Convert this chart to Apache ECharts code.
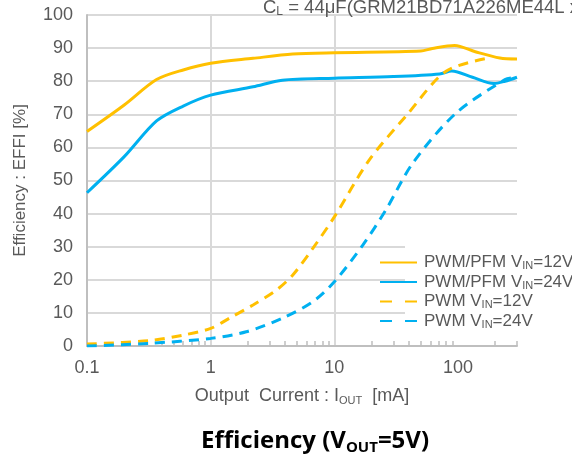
<!DOCTYPE html>
<html>
<head>
<meta charset="utf-8">
<script src="https://cdn.jsdelivr.net/npm/echarts@6/dist/echarts.min.js"></script>
<style>
  html, body { margin: 0; padding: 0; background: #fff; }
  #chart { width: 572px; height: 456px; }
</style>
</head>
<body>
<div id="chart"></div>
<script>
// output current [mA] and efficiency [%] per curve
var pfm12X = [0.1, 0.2, 0.365, 0.6, 1, 2.2, 4.6, 10, 50, 62, 94, 138, 218, 300];
var pfm12Y = [64.8, 72.8, 80.5, 83.4, 85.4, 86.9, 88.2, 88.6, 89.1, 89.9, 90.8, 88.9, 87.0, 86.7];
var pfm24X = [0.1, 0.2, 0.365, 0.6, 1, 2.2, 3.8, 10, 30, 71, 89, 131, 195, 240, 300];
var pfm24Y = [46.3, 57.2, 68.0, 72.5, 75.8, 78.3, 80.3, 80.9, 81.4, 82.2, 83.1, 81.2, 79.3, 80.0, 81.2];
var pwm12X = [0.1, 0.32, 0.6, 1, 1.42, 2.2, 3.4, 4.6, 6.7, 10, 19, 39, 80, 178];
var pwm12Y = [0.6, 1.6, 3.3, 5.3, 8.4, 12.4, 16.9, 21.4, 29.5, 39.0, 56.0, 70.0, 83.0, 87.0];
var pwm24X = [0.1, 0.32, 1, 1.94, 3.8, 6.7, 10, 17, 26, 43, 96, 240, 280];
var pwm24Y = [0.0, 0.8, 2.3, 4.3, 8.4, 13.4, 19.4, 30.5, 41.0, 55.2, 70.3, 80.5, 81.0];

var xTicks = [0.1, 1, 10, 100];
var yellow = '#FFC000';
var blue = '#00B0F0';

function pairs(xs, ys) {
    var out = [];
    for (var i = 0; i < xs.length; i++) {
        out.push([xs[i], ys[i]]);
    }
    return out;
}

// minor ticks 2..9 of every decade
var minorTicks = [];
for (var d = 0.1; d <= 100; d *= 10) {
    for (var k = 2; k <= 9; k++) {
        var v = +(k * d).toPrecision(3);
        if (v <= 300) minorTicks.push(v);
    }
}

var font = 'Liberation Sans, Arial, sans-serif';
var grey = '#595959';

var chart = echarts.init(document.getElementById('chart'));
var options = {
    animation: false,
    title: [
        {
            text: '{a|C}{s|L}{a| = 44\u03bcF(GRM21BD71A226ME44L x}',
            left: 258,
            top: -8,
            textStyle: {
                rich: {
                    a: { fontFamily: font, fontWeight: 'normal', fontSize: 18.5, color: grey },
                    s: { fontFamily: font, fontWeight: 'normal', fontSize: 12, color: grey, padding: [9, 0, 0, 0] }
                }
            }
        },
        {
            text: '{a|Efficiency (V}{s|OUT}{a|=5V)}',
            left: 196,
            top: 423,
            textStyle: {
                rich: {
                    a: { fontFamily: 'Open Sans', fontWeight: 'bold', fontSize: 24, color: '#000' },
                    s: { fontFamily: 'Open Sans', fontWeight: 'bold', fontSize: 15, color: '#000', padding: [12, 0, 0, 0] }
                }
            }
        }
    ],
    grid: { left: 87, right: 55, top: 15, bottom: 110 },
    legend: {
        orient: 'vertical',
        left: 374,
        top: 249,
        itemWidth: 37,
        itemHeight: 12,
        itemGap: 2,
        itemStyle: { opacity: 0 },
        data: [
            { name: 'pfm12' },
            { name: 'pfm24' },
            { name: 'pwm12', lineStyle: { type: [12, 13] } },
            { name: 'pwm24', lineStyle: { type: [12, 13] } }
        ],
        formatter: function (name) {
            var map = {
                pfm12: '{a|PWM/PFM V}{s|IN}{a|=12V}',
                pfm24: '{a|PWM/PFM V}{s|IN}{a|=24V}',
                pwm12: '{a|PWM V}{s|IN}{a|=12V}',
                pwm24: '{a|PWM V}{s|IN}{a|=24V}'
            };
            return map[name];
        },
        textStyle: {
            padding: [0, 0, 0, 2],
            rich: {
                a: { fontFamily: font, fontSize: 17, color: grey },
                s: { fontFamily: font, fontSize: 11, color: grey, padding: [7, 0, 0, 0] }
            }
        }
    },
    graphic: [
        {
            type: 'rect',
            z: 1,
            shape: { x: 405, y: 241, width: 112, height: 94 },
            style: { fill: '#fff' }
        }
    ],
    xAxis: [
        {
            type: 'log',
            logBase: 10,
            position: 'bottom',
            min: 0.1,
            max: 300,
            name: '{a|Output  Current : I}{s|OUT}{a|  [mA]}',
            nameLocation: 'middle',
            nameGap: 41,
            nameTextStyle: {
                rich: {
                    a: { fontFamily: font, fontSize: 18, color: grey },
                    s: { fontFamily: font, fontSize: 11, color: grey, padding: [8, 0, 0, 0] }
                }
            },
            axisLine: { lineStyle: { color: '#bfbfbf', width: 2 } },
            axisTick: { show: false, customValues: xTicks },
            axisLabel: {
                customValues: xTicks,
                margin: 13,
                fontFamily: font,
                fontSize: 18,
                color: grey,
                formatter: function (v) { return String(v); }
            },
            splitLine: {
                show: true,
                showMaxLine: false,
                lineStyle: { color: '#d9d9d9', width: 2 }
            }
        },
        {
            // second copy of the same scale, only for the short minor ticks
            type: 'log',
            logBase: 10,
            position: 'bottom',
            min: 0.1,
            max: 300,
            axisLine: { show: false },
            axisLabel: { show: false },
            splitLine: { show: false },
            axisTick: {
                show: true,
                inside: true,
                length: 5,
                customValues: minorTicks,
                lineStyle: { color: '#bfbfbf', width: 1.5 }
            }
        }
    ],
    yAxis: {
        type: 'value',
        min: 0,
        max: 100,
        interval: 10,
        name: 'Efficiency : EFFI [%]',
        nameLocation: 'middle',
        nameGap: 58,
        nameTextStyle: { fontFamily: font, fontSize: 17, color: grey },
        axisLine: { show: true, lineStyle: { color: '#bfbfbf', width: 2 } },
        axisTick: { show: false },
        axisLabel: { margin: 14, fontFamily: font, fontSize: 18, color: grey },
        splitLine: { lineStyle: { color: '#d9d9d9', width: 2 } }
    },
    series: [
        {
            name: 'pfm12', type: 'line', smooth: 0.3, symbol: 'none',
            lineStyle: { color: yellow, width: 3 }, itemStyle: { color: yellow },
            data: pairs(pfm12X, pfm12Y)
        },
        {
            name: 'pfm24', type: 'line', smooth: 0.3, symbol: 'none',
            lineStyle: { color: blue, width: 3 }, itemStyle: { color: blue },
            data: pairs(pfm24X, pfm24Y)
        },
        {
            name: 'pwm12', type: 'line', smooth: 0.3, symbol: 'none',
            lineStyle: { color: yellow, width: 3, type: [10, 7] }, itemStyle: { color: yellow },
            data: pairs(pwm12X, pwm12Y)
        },
        {
            name: 'pwm24', type: 'line', smooth: 0.3, symbol: 'none',
            lineStyle: { color: blue, width: 3, type: [10, 7] }, itemStyle: { color: blue },
            data: pairs(pwm24X, pwm24Y)
        }
    ]
};
chart.setOption(options);
</script>
</body>
</html>
